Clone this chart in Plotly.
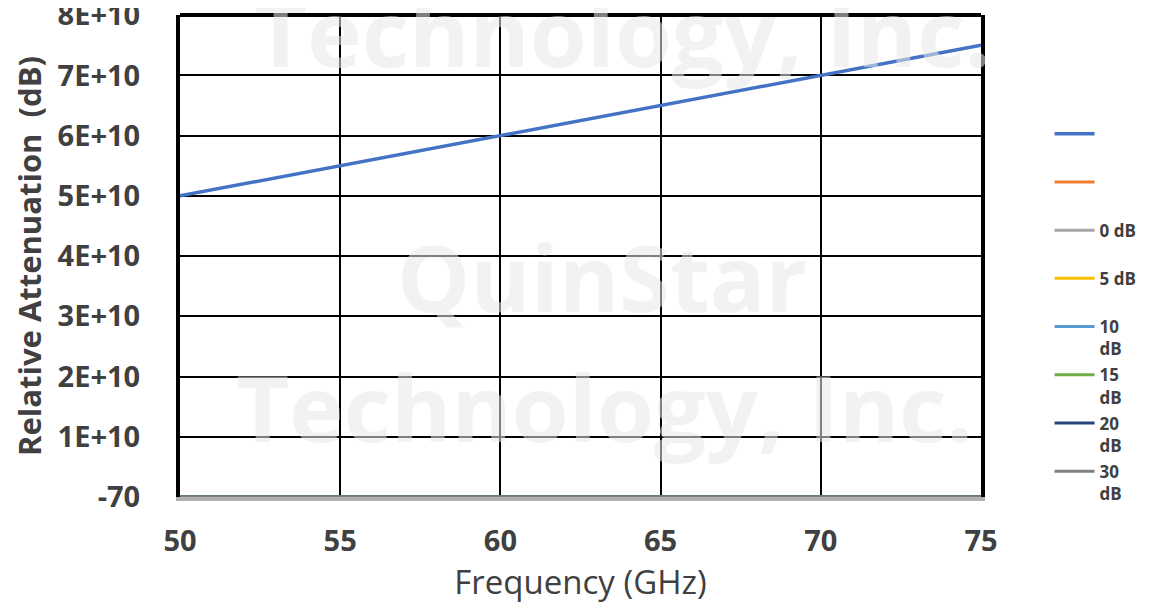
import plotly.graph_objects as go

# ---- data ----
freq = [50, 55, 60, 65, 70, 75]
series_blue = [5.0e10, 5.5e10, 6.0e10, 6.5e10, 7.0e10, 7.5e10]
series_names = ["0 dB<br> ", "5 dB<br> ", "10<br>dB", "15<br>dB", "20<br>dB", "30<br>dB"]
series_colors = ["#a5a5a5", "#ffc000", "#5b9bd5", "#70ad47", "#264478", "#7f7f7f"]
series_levels = [0, -5, -10, -15, -20, -30]

y_tickvals = [-70, 1e10, 2e10, 3e10, 4e10, 5e10, 6e10, 7e10, 8e10]
y_ticktext = ["-70", "1E+10", "2E+10", "3E+10", "4E+10", "5E+10", "6E+10", "7E+10", "8E+10"]
x_tickvals = [50, 55, 60, 65, 70, 75]

FONT = "Open Sans"
TXT = "#404040"

fig = go.Figure()

fig.add_trace(go.Scatter(x=freq, y=series_blue, mode="lines", name=" <br> ",
                         line=dict(color="#4472c4", width=3.5), legendgroup="blue", legendrank=1))
fig.add_trace(go.Scatter(x=[None], y=[None], mode="lines", name=" <br> ",
                         line=dict(color="#ed7d31", width=3), legendgroup="orange", legendrank=2))

# dB series (plotted near the bottom of the huge scale)
for i, (name, col, lvl) in enumerate(zip(series_names, series_colors, series_levels)):
    fig.add_trace(go.Scatter(x=freq, y=[lvl] * len(freq), mode="lines", name=name,
                             line=dict(color=col, width=3), legendgroup=name, legendrank=3 + i))

wm_color = "rgba(232,232,232,0.55)"
wm_font = dict(family=FONT, size=92, color=wm_color, weight="bold")
fig.add_annotation(text="Technology, Inc.", xref="paper", yref="paper", x=0.552, y=0.966,
                   showarrow=False, font=wm_font, yanchor="middle")
fig.add_annotation(text="QuinStar", xref="paper", yref="paper", x=0.527, y=0.458,
                   showarrow=False, font=wm_font, yanchor="middle")
fig.add_annotation(text="Technology, Inc.", xref="paper", yref="paper", x=0.530, y=0.187,
                   showarrow=False, font=wm_font, yanchor="middle")

# top border
fig.add_shape(type="line", xref="paper", yref="paper", x0=0, x1=1, y0=1, y1=1,
              line=dict(color="black", width=4))

fig.update_layout(
    width=1141, height=603,
    margin=dict(l=172, r=163, t=7, b=114),
    paper_bgcolor="white", plot_bgcolor="white",
    font=dict(family=FONT, color=TXT),
    showlegend=True,
    legend=dict(x=1.0856, y=0.79, xanchor="left", yanchor="top",
                font=dict(family=FONT, size=17, color=TXT, weight="bold"),
                traceorder="grouped", tracegroupgap=1, valign="top",
                itemwidth=40, bgcolor="rgba(0,0,0,0)"),
    xaxis=dict(range=[50, 75], tickvals=x_tickvals, showgrid=True, gridcolor="black", gridwidth=2,
               showline=True, linecolor="#b0b0b0", linewidth=4, zeroline=False,
               ticks="", ticklabelstandoff=15, automargin="bottom",
               tickfont=dict(family=FONT, size=29, color=TXT, weight="bold"),
               title=dict(text="Frequency (GHz)", font=dict(family=FONT, size=33, color=TXT), standoff=14)),
    yaxis=dict(range=[-70, 8.002e10], tickvals=y_tickvals, ticktext=y_ticktext,
               showgrid=True, gridcolor="black", gridwidth=2,
               showline=True, linecolor="black", linewidth=4, mirror=True, zeroline=False,
               ticks="", ticklabelstandoff=30, automargin="left", ticklabeloverflow="allow",
               tickfont=dict(family=FONT, size=29, color=TXT, weight="bold"),
               title=dict(text="Relative Attenuation  (dB)", font=dict(family=FONT, size=31, color=TXT, weight="bold"), standoff=12)),
)

fig.write_html("out.html", config={"displayModeBar": False})
